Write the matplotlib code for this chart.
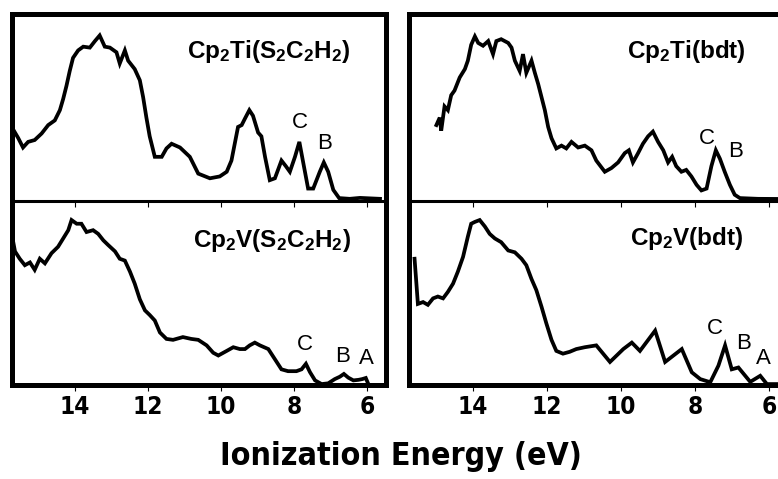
import matplotlib
matplotlib.use('Agg')
import matplotlib.pyplot as plt
from matplotlib import font_manager
from matplotlib.font_manager import FontProperties

# Fonts: Arial-like text; a condensed bold face for the axis if one is installed
plt.rcParams['font.family'] = ['Liberation Sans', 'DejaVu Sans']
plt.rcParams['mathtext.default'] = 'regular'

narrow = None
for f in font_manager.fontManager.ttflist:
    cond = ('Narrow' in f.name or 'Condensed' in f.name
            or f.stretch in ('condensed', 'semi-condensed', 'extra-condensed', 'narrow'))
    if cond and f.weight in ('bold', 700, 'heavy', 800):
        narrow = f.fname
        break

if narrow:
    TICK_FP = FontProperties(fname=narrow, size=17.5)
    LABEL_FP = FontProperties(fname=narrow, size=23)
else:
    TICK_FP = FontProperties(family='Liberation Sans', weight='bold', size=16)
    LABEL_FP = FontProperties(family='Liberation Sans', weight='bold', size=24)

# Spectra (ionization energy in eV, normalized intensity)
ti_s2_energy = [15.67, 15.55, 15.42, 15.28, 15.10, 14.91, 14.73, 14.55, 14.41, 14.32,
                14.23, 14.14, 14.05, 13.91, 13.77, 13.59, 13.45, 13.32, 13.18, 13.04,
                12.86, 12.77, 12.63, 12.54, 12.36, 12.22, 12.13, 12.04, 11.95, 11.81,
                11.62, 11.49, 11.35, 11.12, 10.85, 10.62, 10.30, 10.03, 9.84, 9.71,
                9.62, 9.53, 9.43, 9.34, 9.22, 9.12, 8.98, 8.89, 8.79, 8.66,
                8.52, 8.34, 8.22, 8.11, 7.97, 7.85, 7.74, 7.61, 7.47, 7.29,
                7.18, 7.06, 6.92, 6.76, 6.47, 6.19, 5.64]
ti_s2_counts = [0.37, 0.33, 0.28, 0.31, 0.32, 0.355, 0.40, 0.425, 0.48, 0.54,
                0.61, 0.69, 0.76, 0.80, 0.82, 0.815, 0.85, 0.88, 0.82, 0.815,
                0.79, 0.73, 0.80, 0.745, 0.70, 0.64, 0.55, 0.44, 0.34, 0.23,
                0.23, 0.275, 0.30, 0.28, 0.23, 0.14, 0.115, 0.125, 0.15, 0.21,
                0.30, 0.39, 0.40, 0.435, 0.48, 0.45, 0.36, 0.34, 0.23, 0.105,
                0.115, 0.21, 0.18, 0.15, 0.23, 0.31, 0.195, 0.06, 0.06, 0.15,
                0.20, 0.15, 0.053, 0.009, 0.005, 0.01, 0.005]

ti_bdt_energy = [14.99, 14.90, 14.86, 14.77, 14.68, 14.59, 14.50, 14.36, 14.22, 14.14,
                 14.05, 13.95, 13.86, 13.73, 13.59, 13.46, 13.37, 13.24, 13.05, 12.96,
                 12.87, 12.74, 12.65, 12.56, 12.42, 12.33, 12.24, 12.15, 12.06, 11.97,
                 11.88, 11.75, 11.61, 11.48, 11.34, 11.16, 10.98, 10.80, 10.67, 10.44,
                 10.26, 10.08, 9.90, 9.79, 9.68, 9.54, 9.41, 9.27, 9.14, 9.00,
                 8.86, 8.73, 8.62, 8.51, 8.37, 8.24, 8.10, 7.96, 7.83, 7.69,
                 7.56, 7.44, 7.33, 7.20, 7.06, 6.93, 6.79, 6.30, 5.50]
ti_bdt_counts = [0.40, 0.44, 0.37, 0.50, 0.48, 0.56, 0.585, 0.655, 0.70, 0.745,
                 0.83, 0.875, 0.84, 0.825, 0.85, 0.78, 0.85, 0.86, 0.84, 0.815,
                 0.745, 0.69, 0.78, 0.68, 0.745, 0.68, 0.62, 0.55, 0.48, 0.39,
                 0.33, 0.275, 0.29, 0.275, 0.31, 0.28, 0.29, 0.265, 0.21, 0.15,
                 0.17, 0.20, 0.25, 0.265, 0.20, 0.25, 0.30, 0.34, 0.365, 0.31,
                 0.265, 0.20, 0.23, 0.18, 0.15, 0.16, 0.125, 0.08, 0.05, 0.06,
                 0.18, 0.265, 0.22, 0.15, 0.08, 0.027, 0.009, 0.005, 0.004]

v_s2_energy = [15.73, 15.64, 15.51, 15.37, 15.23, 15.10, 14.96, 14.82, 14.64, 14.46,
               14.32, 14.18, 14.09, 13.95, 13.82, 13.68, 13.50, 13.36, 13.22, 13.09,
               12.90, 12.77, 12.63, 12.49, 12.36, 12.22, 12.08, 11.95, 11.81, 11.67,
               11.49, 11.31, 11.04, 10.81, 10.62, 10.39, 10.21, 10.07, 9.84, 9.66,
               9.48, 9.34, 9.21, 9.07, 8.93, 8.70, 8.52, 8.34, 8.16, 7.93,
               7.79, 7.67, 7.56, 7.42, 7.24, 7.06, 6.88, 6.74, 6.63, 6.51,
               6.37, 6.23, 6.13, 6.03, 5.96]
v_s2_counts = [0.815, 0.72, 0.68, 0.645, 0.66, 0.62, 0.68, 0.655, 0.71, 0.745,
               0.79, 0.835, 0.89, 0.87, 0.87, 0.825, 0.835, 0.815, 0.78, 0.755,
               0.72, 0.68, 0.67, 0.61, 0.545, 0.46, 0.40, 0.375, 0.345, 0.28,
               0.245, 0.24, 0.255, 0.245, 0.24, 0.21, 0.17, 0.155, 0.18, 0.20,
               0.19, 0.19, 0.21, 0.225, 0.21, 0.19, 0.135, 0.08, 0.07, 0.07,
               0.08, 0.11, 0.065, 0.02, 0.0, 0.004, 0.027, 0.04, 0.055, 0.035,
               0.02, 0.023, 0.027, 0.033, 0.0]

v_bdt_energy = [15.58, 15.53, 15.49, 15.35, 15.22, 15.08, 14.95, 14.81, 14.68, 14.54,
                14.41, 14.27, 14.14, 14.05, 13.95, 13.82, 13.68, 13.55, 13.41, 13.24,
                13.05, 12.87, 12.69, 12.56, 12.42, 12.29, 12.15, 12.02, 11.88, 11.75,
                11.57, 11.39, 11.21, 10.98, 10.67, 10.30, 9.94, 9.71, 9.49, 9.08,
                8.81, 8.36, 8.09, 7.86, 7.59, 7.37, 7.19, 7.01, 6.83, 6.51,
                6.24, 6.06, 5.50]
v_bdt_counts = [0.68, 0.545, 0.435, 0.445, 0.43, 0.465, 0.475, 0.465, 0.50, 0.545,
                0.61, 0.69, 0.80, 0.87, 0.88, 0.89, 0.855, 0.815, 0.79, 0.77,
                0.725, 0.715, 0.68, 0.645, 0.57, 0.51, 0.42, 0.33, 0.24, 0.18,
                0.165, 0.175, 0.19, 0.20, 0.21, 0.12, 0.19, 0.225, 0.18, 0.29,
                0.12, 0.19, 0.064, 0.027, 0.01, 0.10, 0.21, 0.08, 0.09, 0.012,
                0.045, 0.0, 0.0]

titles = [r'Cp$_2$Ti(S$_2$C$_2$H$_2$)', r'Cp$_2$Ti(bdt)',
          r'Cp$_2$V(S$_2$C$_2$H$_2$)', r'Cp$_2$V(bdt)']

# Band labels: letter, energy, height
ti_s2_bands = [('C', 7.84, 0.415), ('B', 7.15, 0.30)]
ti_bdt_bands = [('C', 7.68, 0.33), ('B', 6.92, 0.26)]
v_s2_bands = [('C', 7.70, 0.215), ('B', 6.66, 0.15), ('A', 6.00, 0.14)]
v_bdt_bands = [('C', 7.46, 0.30), ('B', 6.70, 0.22), ('A', 6.16, 0.14)]

xticks = [14, 12, 10, 8, 6]

fig = plt.figure(figsize=(7.78, 4.79), dpi=100)
W, H = 778.0, 479.0

# panel geometry in pixels (left, width)
cols = [(11.7, 373.8), (409.0, 379.0)]
top_py, mid_py, bot_py = 14.0, 200.7, 385.0

panels = [
    (0, 0, ti_s2_energy, ti_s2_counts, ti_s2_bands, titles[0], (0.688, 0.80)),
    (1, 0, ti_bdt_energy, ti_bdt_counts, ti_bdt_bands, titles[1], (0.733, 0.80)),
    (0, 1, v_s2_energy, v_s2_counts, v_s2_bands, titles[2], (0.696, 0.785)),
    (1, 1, v_bdt_energy, v_bdt_counts, v_bdt_bands, titles[3], (0.733, 0.795)),
]

for col, row, en, cts, bands, title, tpos in panels:
    x0, w = cols[col]
    if row == 0:
        y_top, y_bot = top_py, mid_py
    else:
        y_top, y_bot = mid_py, bot_py
    ax = fig.add_axes([x0 / W, 1 - y_bot / H, w / W, (y_bot - y_top) / H])
    ax.plot(en, cts, color='black', lw=2.7, solid_joinstyle='miter')
    ax.set_xlim(15.73, 5.49)
    ax.set_ylim(-0.005, 0.995)
    ax.set_yticks([])
    ax.set_xticks(xticks)

    for s in ['left', 'right']:
        ax.spines[s].set_linewidth(3.6)
    if row == 0:
        ax.spines['top'].set_linewidth(3.6)
        ax.spines['bottom'].set_visible(False)
        ax.tick_params(axis='x', bottom=False, labelbottom=False)
    else:
        ax.spines['bottom'].set_linewidth(3.6)
        ax.spines['top'].set_linewidth(2.2)
        ax.tick_params(axis='x', which='both', direction='out', length=4,
                       width=0.8, top=True, pad=3)
        for t in ax.xaxis.get_major_ticks():
            t.tick2line.set_marker(3)  # top ticks pointing inward
            t.tick2line.set_markersize(4)
        for lbl in ax.get_xticklabels():
            lbl.set_fontproperties(TICK_FP)

    ax.text(tpos[0], tpos[1], title, transform=ax.transAxes, ha='center',
            va='center', fontsize=17.5, fontweight='bold')
    for letter, e, h in bands:
        ax.text(e, h, letter, ha='center', va='center', fontsize=16)

fig.text(401 / W, 1 - 456 / H, 'Ionization Energy (eV)', ha='center', va='center',
         fontproperties=LABEL_FP)

fig.savefig('out.png', dpi=100, facecolor='white')
